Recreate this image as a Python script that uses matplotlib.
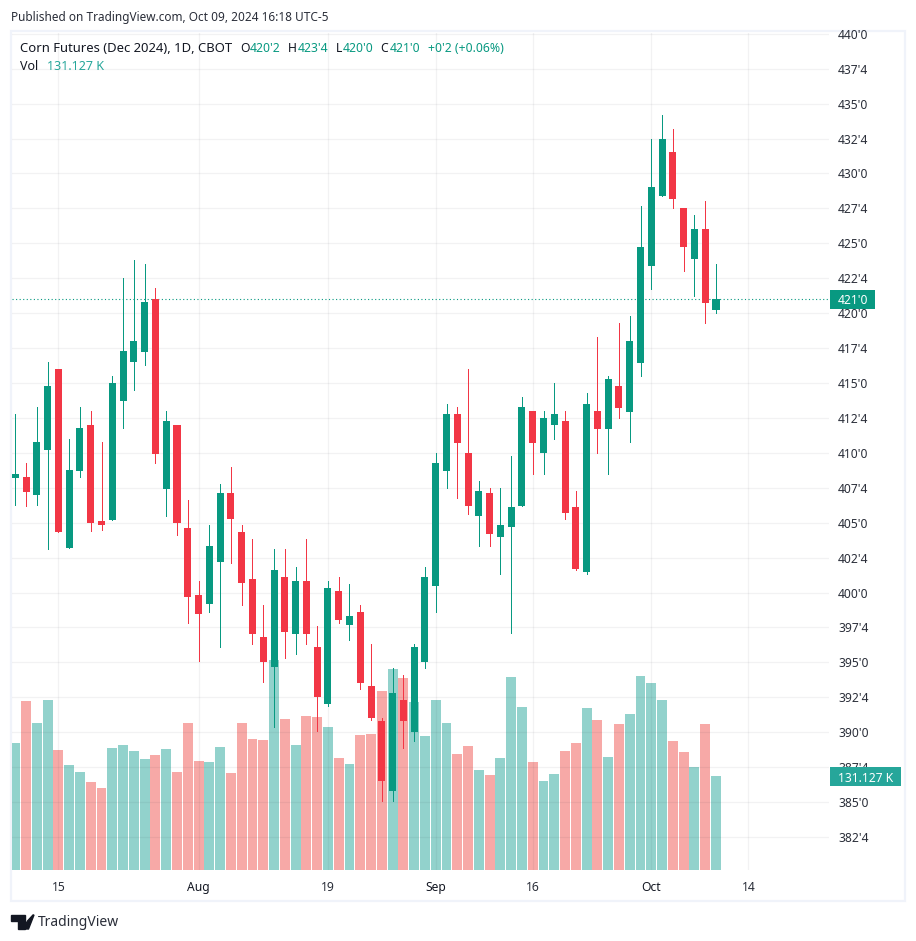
import matplotlib
matplotlib.use("Agg")
import numpy as np
import matplotlib.pyplot as plt
from matplotlib.patches import Rectangle, Polygon

plt.rcParams['font.family'] = ['Noto Sans', 'DejaVu Sans']

GREEN = '#089981'
RED = '#F23645'
VOL_GREEN = '#92D2CC'
VOL_RED = '#F7A9A7'
TEXT = '#131722'

W, H = 916, 941

opens = [408.2,408.3,407.0,410.2,416.0,403.2,408.7,412.0,405.1,405.2,413.7,416.5,417.2,421.0,407.4,412.0,
         404.6,399.8,399.2,402.2,407.1,404.3,401.0,396.8,394.7,401.1,397.0,400.8,396.1,392.0,400.1,397.7,
         398.6,393.3,390.8,385.8,392.3,390.0,395.0,400.5,408.7,412.8,410.0,405.5,407.1,404.0,404.7,406.2,
         413.0,410.0,412.0,412.3,406.1,401.5,413.0,411.7,414.8,412.9,416.4,423.4,428.4,431.5,427.5,423.9,
         426.0,420.2]
highs = [412.8,409.3,413.3,416.5,416.0,411.0,413.3,413.0,410.8,415.5,422.5,423.8,423.5,421.8,413.0,412.0,
         406.6,400.8,404.8,407.8,409.0,404.8,403.8,399.1,403.1,403.1,401.8,403.8,397.6,400.8,401.1,400.6,
         399.1,396.3,391.0,394.6,394.1,396.3,401.8,410.0,413.5,413.3,416.0,408.0,407.5,407.5,409.8,414.0,
         413.0,413.0,415.0,413.0,407.3,414.3,418.3,415.5,419.3,419.8,427.7,432.5,434.2,433.2,427.5,427.0,
         428.0,423.5]
lows = [406.3,406.2,406.3,403.1,404.3,403.2,408.3,404.4,404.5,405.2,411.8,414.5,416.3,409.3,405.5,404.1,
        397.8,395.1,398.6,396.1,402.1,399.1,396.3,393.6,390.4,395.3,395.6,396.3,390.1,391.9,397.8,396.6,
        393.1,390.9,385.1,385.1,388.9,389.4,394.6,398.6,407.5,406.8,405.6,403.3,403.3,401.3,397.1,406.2,
        408.5,408.5,411.0,405.3,401.6,401.3,410.0,408.5,412.5,410.8,415.5,421.7,428.4,427.5,423.0,421.2,
        419.3,420.0]
closes = [408.5,407.2,410.8,414.8,404.3,408.8,411.8,405.0,404.8,415.0,417.3,418.0,420.8,409.9,412.3,405.0,
          399.7,398.5,403.3,407.1,405.3,400.7,397.0,395.0,401.6,397.2,400.8,397.0,392.5,400.3,398.0,398.3,
          393.5,391.0,386.5,392.8,390.8,396.1,401.1,409.3,412.8,410.7,406.2,407.3,404.2,404.8,406.1,413.3,
          410.7,412.5,412.8,405.7,401.7,413.5,411.7,415.3,413.2,418.0,424.7,429.0,432.5,428.2,424.7,426.0,
          420.7,421.0]
# volume in thousands, colour follows the candle
volumes = [177.2,235.8,205.1,237.2,167.4,146.5,136.7,122.8,114.4,170.2,174.4,166.0,154.8,160.4,168.8,136.7,
           205.1,152.1,150.7,171.6,135.3,205.1,182.8,181.4,293.0,210.7,174.4,214.8,213.4,199.5,156.2,147.9,
           188.3,189.7,249.7,280.4,267.8,234.4,186.9,237.2,205.1,161.8,173.0,139.5,132.5,156.2,269.2,227.4,
           150.7,124.2,133.9,166.0,177.2,226.0,209.3,157.6,203.7,217.6,270.6,260.9,237.2,180.0,164.6,143.7,
           203.7,131.1]

price_ticks = np.arange(382.5, 440.5, 2.5)
x_ticks = [4, 17, 29, 39, 48, 59, 68]
x_labels = ['15', 'Aug', '19', 'Sep', '16', 'Oct', '14']
bold_labels = ['Aug', 'Sep', 'Oct']
last_price = 421.0
last_volume = 131.127


def price_label(p):
    whole = int(p)
    return "%d'%d" % (whole, 4 if p - whole else 0)


def fig_x(px):
    return px / W


def fig_y(py):
    return 1 - py / H


fig = plt.figure(figsize=(W / 100, H / 100), dpi=100, facecolor='white')
left, right, top, bottom = 11.5, 829, 33, 870
rect = [fig_x(left), fig_y(bottom), (right - left) / W, (bottom - top) / H]

ax = fig.add_axes(rect, zorder=2)
ax.patch.set_visible(False)
ax_vol = ax.twinx()
ax_vol.set_zorder(1)

x0, dx = 15.3, 10.78
x = np.arange(len(opens))
ax.set_xlim((left - x0) / dx, (right - x0) / dx)
ax.set_ylim(435 - (bottom - 103.6) / 13.97, 435 - (top - 103.6) / 13.97)
ax_vol.set_ylim(0, 1167.6)

# volume underneath
vol_colors = [VOL_GREEN if c >= o else VOL_RED for o, c in zip(opens, closes)]
ax_vol.bar(x, volumes, width=0.92, color=vol_colors, linewidth=0)

# candles
colors = [GREEN if c >= o else RED for o, c in zip(opens, closes)]
ax.vlines(x, lows, highs, colors=colors, linewidth=0.72, antialiased=False, zorder=3)
ax.bar(x, np.array(closes) - np.array(opens), bottom=opens, width=0.65, color=colors, linewidth=0, zorder=4)

ax.axhline(last_price, color=GREEN, linewidth=0.8, linestyle=(0, (1, 2.2)), zorder=2)

ax.set_yticks(price_ticks)
ax.set_yticklabels([price_label(p) for p in price_ticks], va='center_baseline')
ax.yaxis.tick_right()
ax.set_xticks(x_ticks)
ax.set_xticklabels(x_labels)
ax.tick_params(axis='both', length=0, labelsize=8.7, labelcolor='#2A2E39')
ax.tick_params(axis='y', pad=6.5)
ax.tick_params(axis='x', pad=8)
for lab in ax.get_xticklabels():
    if lab.get_text() in bold_labels:
        lab.set_fontweight('bold')
        lab.set_color(TEXT)
ax.grid(True, color='#2A2E39', alpha=0.06, linewidth=0.9)
ax.set_axisbelow(True)
ax_vol.set_yticks([])
for a in (ax, ax_vol):
    for s in a.spines.values():
        s.set_visible(False)

# outer frame of the chart
fig.add_artist(Rectangle((fig_x(11), fig_y(901)), 894 / W, 870 / H, fill=False, edgecolor='#F0F3FA',
                         linewidth=1.6, transform=fig.transFigure, zorder=1))

# last value tags
for text, color, x1, x2, y1, y2 in [("421'0", GREEN, 830, 875, 290, 309),
                                    ("%.3f K" % last_volume, '#26A69A', 830, 901, 767, 786)]:
    fig.add_artist(Rectangle((fig_x(x1), fig_y(y2)), (x2 - x1) / W, (y2 - y1) / H, facecolor=color,
                             edgecolor='none', transform=fig.transFigure, zorder=5))
    fig.text(fig_x(838), fig_y((y1 + y2) / 2), text, color='white', fontsize=8.7, fontweight='bold',
             va='center_baseline', ha='left', zorder=6)

fig.text(fig_x(11), fig_y(17), "Published on TradingView.com, Oct 09, 2024 16:18 UTC-5", fontsize=8.5,
         color='#2A2E39', va='center', zorder=6)

# legend, label and value pieces
fig.text(fig_x(20), fig_y(48), "Corn Futures (Dec 2024), 1D, CBOT", fontsize=9.4, color=TEXT, va='center', zorder=6)
legend_row = [(240, "O", TEXT), (250, "420'2", GREEN),
              (288, "H", TEXT), (298, "423'4", GREEN), (336, "L", TEXT), (343, "420'0", GREEN),
              (380, "C", TEXT), (390, "421'0", GREEN), (428, "+0'2 (+0.06%)", GREEN)]
for px, text, color in legend_row:
    fig.text(fig_x(px), fig_y(48), text, fontsize=8.8, color=color, va='center', zorder=6)
fig.text(fig_x(20), fig_y(67), "Vol", fontsize=9, color=TEXT, va='center', zorder=6)
fig.text(fig_x(47), fig_y(67), "131.127 K", fontsize=9, color='#26A69A', va='center', zorder=6)

# logo
logo = '#131722'
pts = [(11, 915), (24.5, 915), (24.5, 929), (18, 929), (18, 921), (11, 921)]
fig.add_artist(Polygon([(fig_x(a), fig_y(b)) for a, b in pts], color=logo, transform=fig.transFigure, zorder=6))
pts = [(27.5, 921), (33, 915), (34, 915), (28.5, 929), (23, 929)]
fig.add_artist(Polygon([(fig_x(a), fig_y(b)) for a, b in pts], color=logo, transform=fig.transFigure, zorder=6))
fig.text(fig_x(38), fig_y(922.5), "TradingView", fontsize=10, color='#2A2E39', va='center', zorder=6)

plt.savefig("out.png", dpi=100)
